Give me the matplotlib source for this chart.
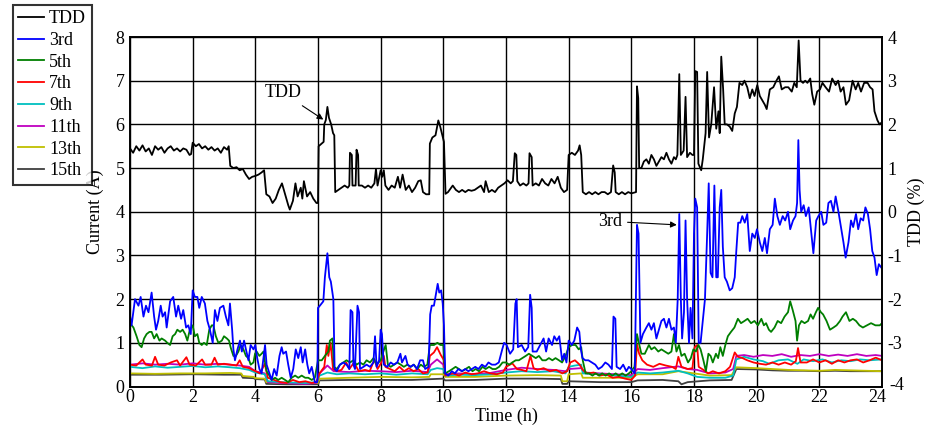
import matplotlib
matplotlib.use("Agg")
import matplotlib.pyplot as plt
from matplotlib.transforms import ScaledTranslation

plt.rcParams['font.family'] = ['Liberation Serif', 'DejaVu Serif']
plt.rcParams['font.size'] = 13
plt.rcParams['axes.unicode_minus'] = False

# ---- Data: (hour, value) samples per series ----
# TDD in percent (right axis)
tdd_points = [
    (0.0, 1.45), (0.1, 1.35), (0.2, 1.50), (0.3, 1.40), (0.4, 1.52), (0.5, 1.38), (0.6, 1.45), (0.7, 1.30),
    (0.8, 1.50), (0.9, 1.42), (1.0, 1.48), (1.1, 1.35), (1.2, 1.45), (1.3, 1.50), (1.4, 1.40), (1.5, 1.45),
    (1.6, 1.38), (1.7, 1.45), (1.8, 1.42), (1.9, 1.30), (1.95, 1.32), (2.0, 1.58), (2.1, 1.50), (2.2, 1.55),
    (2.3, 1.45), (2.4, 1.50), (2.5, 1.42), (2.6, 1.48), (2.7, 1.40), (2.8, 1.45), (2.9, 1.35), (3.0, 1.48),
    (3.1, 1.42), (3.15, 1.50), (3.2, 1.05), (3.3, 1.00), (3.4, 1.02), (3.5, 0.95), (3.6, 0.98), (3.7, 0.85),
    (3.8, 0.75), (3.9, 0.80), (4.0, 0.82), (4.1, 0.85), (4.2, 0.90), (4.28, 0.95), (4.35, 0.40), (4.45, 0.35),
    (4.55, 0.20), (4.65, 0.30), (4.75, 0.50), (4.85, 0.65), (4.95, 0.40), (5.05, 0.15), (5.1, 0.05), (5.2, 0.25),
    (5.28, 0.65), (5.35, 0.35), (5.45, 0.55), (5.5, 0.30), (5.55, 0.70), (5.65, 0.35), (5.75, 0.45), (5.85, 0.30),
    (5.95, 0.20), (6.0, 0.20), (6.02, 1.50), (6.1, 1.55), (6.18, 1.60), (6.2, 2.00), (6.25, 2.10), (6.3, 2.40),
    (6.35, 2.15), (6.42, 2.00), (6.48, 1.80), (6.52, 1.75), (6.55, 0.45), (6.65, 0.50), (6.75, 0.55), (6.85, 0.60),
    (6.95, 0.55), (7.0, 0.60), (7.02, 1.35), (7.08, 1.30), (7.1, 0.60), (7.2, 0.60), (7.23, 1.42), (7.28, 1.30),
    (7.3, 0.60), (7.4, 0.60), (7.5, 0.55), (7.6, 0.60), (7.7, 0.55), (7.8, 0.65), (7.85, 0.98), (7.9, 0.60),
    (8.0, 0.95), (8.05, 0.80), (8.1, 0.95), (8.15, 0.60), (8.25, 0.50), (8.35, 0.60), (8.45, 0.55), (8.55, 0.80),
    (8.62, 0.55), (8.7, 0.85), (8.8, 0.50), (8.9, 0.60), (9.0, 0.45), (9.1, 0.55), (9.2, 0.70), (9.28, 0.72),
    (9.35, 0.45), (9.45, 0.40), (9.55, 0.40), (9.57, 1.56), (9.65, 1.70), (9.75, 1.75), (9.84, 2.09), (9.9, 1.95),
    (9.95, 1.80), (10.02, 1.60), (10.07, 0.41), (10.15, 0.45), (10.3, 0.60), (10.4, 0.50), (10.5, 0.45), (10.6, 0.50),
    (10.7, 0.45), (10.8, 0.50), (10.9, 0.48), (11.0, 0.50), (11.1, 0.55), (11.2, 0.60), (11.3, 0.45), (11.35, 0.70),
    (11.45, 0.45), (11.55, 0.50), (11.65, 0.45), (11.75, 0.55), (11.85, 0.60), (11.95, 0.65), (12.05, 0.72), (12.15, 0.65),
    (12.22, 0.70), (12.28, 1.34), (12.33, 1.30), (12.36, 0.70), (12.45, 0.60), (12.55, 0.65), (12.65, 0.60), (12.72, 0.65),
    (12.75, 1.34), (12.82, 1.25), (12.85, 0.60), (12.95, 0.65), (13.05, 0.60), (13.15, 0.75), (13.25, 0.65), (13.35, 0.60),
    (13.45, 0.75), (13.55, 0.65), (13.65, 0.80), (13.75, 0.55), (13.85, 0.45), (13.95, 0.50), (14.0, 1.30), (14.1, 1.35),
    (14.2, 1.30), (14.3, 1.40), (14.35, 1.52), (14.4, 1.30), (14.45, 0.45), (14.55, 0.40), (14.65, 0.45), (14.75, 0.40),
    (14.85, 0.45), (14.95, 0.40), (15.05, 0.45), (15.15, 0.45), (15.25, 0.40), (15.35, 0.45), (15.42, 1.06), (15.47, 0.90),
    (15.5, 0.45), (15.6, 0.40), (15.7, 0.45), (15.8, 0.40), (15.9, 0.45), (16.0, 0.42), (16.15, 0.45), (16.18, 2.87),
    (16.22, 2.60), (16.25, 1.00), (16.32, 1.00), (16.4, 1.15), (16.48, 1.20), (16.56, 1.10), (16.64, 1.30), (16.72, 1.20),
    (16.8, 1.05), (16.88, 1.15), (16.96, 1.25), (17.04, 1.20), (17.12, 1.35), (17.2, 1.20), (17.28, 1.10), (17.36, 1.25),
    (17.42, 1.20), (17.47, 1.30), (17.53, 3.15), (17.58, 1.30), (17.67, 1.40), (17.73, 2.63), (17.78, 1.25), (17.87, 1.35),
    (17.95, 1.30), (18.0, 1.30), (18.04, 3.22), (18.1, 3.20), (18.14, 1.10), (18.23, 0.95), (18.28, 1.20), (18.37, 1.80),
    (18.42, 3.20), (18.48, 1.70), (18.55, 2.00), (18.64, 2.85), (18.71, 1.90), (18.78, 2.30), (18.82, 1.80), (18.87, 3.55),
    (18.93, 2.80), (18.98, 2.00), (19.05, 2.00), (19.14, 1.95), (19.22, 1.85), (19.3, 2.25), (19.37, 2.40), (19.45, 2.95),
    (19.54, 2.90), (19.61, 3.00), (19.7, 2.85), (19.78, 2.60), (19.86, 2.80), (19.93, 2.65), (20.02, 2.90), (20.1, 2.65),
    (20.18, 2.55), (20.26, 2.45), (20.32, 2.35), (20.42, 2.80), (20.53, 2.85), (20.63, 3.00), (20.71, 3.10), (20.8, 2.80),
    (20.91, 2.85), (21.01, 2.85), (21.12, 2.75), (21.2, 2.95), (21.28, 2.85), (21.34, 3.92), (21.4, 3.00), (21.48, 2.95),
    (21.55, 3.00), (21.62, 2.95), (21.71, 3.05), (21.77, 2.70), (21.84, 2.45), (21.93, 2.75), (22.02, 2.80), (22.1, 2.95),
    (22.2, 2.85), (22.31, 2.75), (22.41, 3.05), (22.52, 2.90), (22.6, 3.00), (22.68, 2.75), (22.77, 2.85), (22.85, 2.45),
    (22.95, 2.55), (23.06, 3.00), (23.16, 2.80), (23.24, 2.95), (23.33, 2.75), (23.43, 2.95), (23.54, 2.95), (23.62, 2.85),
    (23.7, 2.80), (23.76, 2.30), (23.85, 2.10), (23.92, 2.00), (24.0, 2.05),
]

# Harmonic currents in A (left axis)
h3_points = [
    (0.0, 1.62), (0.05, 1.40), (0.16, 2.00), (0.27, 1.85), (0.34, 2.05), (0.43, 1.60), (0.51, 1.85), (0.59, 1.70),
    (0.69, 2.15), (0.77, 1.60), (0.83, 1.30), (0.9, 1.50), (0.98, 1.85), (1.04, 1.60), (1.12, 1.70), (1.17, 1.35),
    (1.28, 1.95), (1.38, 2.05), (1.47, 1.60), (1.54, 1.85), (1.63, 1.55), (1.7, 1.75), (1.79, 1.35), (1.86, 1.40),
    (1.94, 1.20), (2.0, 2.20), (2.07, 2.05), (2.15, 2.05), (2.21, 1.80), (2.29, 2.05), (2.39, 1.90), (2.47, 1.50),
    (2.55, 1.30), (2.64, 1.00), (2.71, 1.75), (2.79, 1.50), (2.87, 1.80), (2.98, 1.85), (3.06, 1.60), (3.14, 1.40),
    (3.19, 1.90), (3.26, 1.30), (3.3, 0.85), (3.35, 0.60), (3.43, 0.85), (3.51, 1.05), (3.57, 0.80), (3.64, 1.05),
    (3.7, 0.85), (3.78, 0.60), (3.85, 0.95), (3.94, 0.85), (4.0, 0.95), (4.06, 0.65), (4.13, 0.40), (4.2, 0.30),
    (4.31, 0.95), (4.36, 0.50), (4.45, 0.30), (4.52, 0.15), (4.6, 0.40), (4.68, 0.25), (4.77, 0.70), (4.84, 0.90),
    (4.89, 0.75), (4.98, 0.80), (5.05, 0.50), (5.13, 0.20), (5.21, 0.40), (5.29, 0.85), (5.37, 0.65), (5.45, 0.90),
    (5.51, 0.55), (5.59, 0.85), (5.66, 0.50), (5.72, 0.30), (5.8, 0.45), (5.9, 0.10), (5.98, 0.10), (6.0, 1.80),
    (6.06, 1.85), (6.17, 1.95), (6.22, 2.50), (6.3, 3.05), (6.36, 2.50), (6.41, 2.40), (6.49, 2.00), (6.53, 0.40),
    (6.6, 0.35), (6.7, 0.50), (6.81, 0.55), (6.91, 0.50), (7.0, 0.40), (7.04, 1.75), (7.1, 1.70), (7.13, 0.50),
    (7.18, 0.40), (7.26, 1.85), (7.31, 1.70), (7.34, 0.40), (7.45, 0.45), (7.55, 0.50), (7.66, 0.45), (7.77, 0.55),
    (7.82, 1.15), (7.87, 0.45), (7.95, 0.60), (8.0, 1.30), (8.04, 1.20), (8.1, 0.50), (8.21, 0.45), (8.32, 0.55),
    (8.42, 0.50), (8.53, 0.55), (8.63, 0.75), (8.68, 0.55), (8.79, 0.70), (8.86, 0.50), (8.95, 0.45), (9.05, 0.50),
    (9.16, 0.40), (9.26, 0.60), (9.35, 0.60), (9.42, 0.40), (9.53, 0.45), (9.58, 1.65), (9.63, 1.85), (9.7, 1.85),
    (9.77, 2.15), (9.82, 2.35), (9.87, 2.15), (9.93, 2.20), (9.98, 1.90), (10.02, 1.40), (10.06, 0.30), (10.16, 0.25),
    (10.27, 0.35), (10.37, 0.30), (10.48, 0.40), (10.59, 0.35), (10.7, 0.40), (10.8, 0.35), (10.91, 0.40), (11.02, 0.45),
    (11.12, 0.40), (11.23, 0.50), (11.34, 0.45), (11.44, 0.55), (11.55, 0.50), (11.66, 0.50), (11.77, 0.55), (11.88, 0.85),
    (11.94, 1.00), (12.02, 0.95), (12.13, 0.75), (12.23, 0.85), (12.3, 1.90), (12.34, 2.00), (12.38, 0.90), (12.5, 0.95),
    (12.61, 0.80), (12.71, 0.90), (12.77, 2.10), (12.82, 1.80), (12.85, 0.80), (12.98, 0.80), (13.09, 0.95), (13.2, 1.10),
    (13.28, 0.80), (13.36, 1.10), (13.47, 0.95), (13.54, 1.15), (13.62, 1.05), (13.7, 1.15), (13.79, 0.60), (13.86, 0.75),
    (13.93, 0.55), (14.0, 1.05), (14.1, 0.95), (14.18, 1.05), (14.27, 1.35), (14.34, 1.25), (14.39, 0.85), (14.44, 0.65),
    (14.53, 0.60), (14.63, 0.60), (14.74, 0.55), (14.85, 0.50), (14.95, 0.40), (15.06, 0.45), (15.17, 0.55), (15.27, 0.50),
    (15.38, 0.40), (15.43, 1.60), (15.49, 1.55), (15.53, 0.45), (15.64, 0.40), (15.74, 0.50), (15.84, 0.35), (15.92, 0.45),
    (16.0, 0.40), (16.11, 0.30), (16.18, 3.70), (16.23, 3.50), (16.29, 1.00), (16.37, 1.20), (16.48, 1.35), (16.56, 1.45),
    (16.64, 1.30), (16.72, 1.45), (16.8, 1.10), (16.88, 1.30), (16.96, 1.50), (17.04, 1.55), (17.12, 1.35), (17.2, 1.55),
    (17.28, 1.30), (17.36, 1.35), (17.42, 1.00), (17.48, 2.00), (17.53, 3.95), (17.58, 2.00), (17.62, 1.10), (17.68, 1.70),
    (17.73, 3.80), (17.78, 2.00), (17.84, 1.00), (17.89, 1.80), (17.95, 1.10), (18.0, 3.50), (18.04, 4.30), (18.1, 4.10),
    (18.15, 1.00), (18.21, 1.00), (18.28, 1.50), (18.35, 2.00), (18.42, 3.50), (18.47, 4.65), (18.53, 2.60), (18.59, 2.50),
    (18.65, 4.60), (18.71, 2.50), (18.76, 2.50), (18.82, 4.10), (18.87, 4.50), (18.92, 3.20), (18.98, 2.50), (19.05, 2.40),
    (19.14, 2.20), (19.22, 2.25), (19.3, 2.50), (19.35, 3.10), (19.41, 3.75), (19.48, 3.75), (19.54, 3.90), (19.62, 3.75),
    (19.7, 3.95), (19.78, 3.10), (19.86, 3.50), (19.94, 3.40), (20.01, 3.60), (20.1, 3.30), (20.18, 3.10), (20.26, 3.40),
    (20.33, 3.05), (20.42, 3.60), (20.51, 3.70), (20.58, 4.30), (20.66, 3.90), (20.74, 3.70), (20.83, 3.90), (20.91, 3.80),
    (21.0, 4.00), (21.07, 3.60), (21.16, 3.80), (21.24, 3.90), (21.29, 4.20), (21.33, 5.64), (21.37, 4.50), (21.42, 4.00),
    (21.5, 4.15), (21.57, 3.90), (21.66, 4.10), (21.73, 3.60), (21.81, 3.05), (21.9, 3.80), (21.97, 3.90), (22.06, 4.00),
    (22.13, 3.70), (22.22, 3.75), (22.29, 4.20), (22.37, 4.25), (22.45, 4.00), (22.52, 4.35), (22.61, 4.00), (22.68, 3.70),
    (22.77, 3.30), (22.84, 2.95), (22.93, 3.30), (23.01, 3.80), (23.08, 3.65), (23.17, 3.95), (23.24, 3.60), (23.32, 3.85),
    (23.4, 3.80), (23.47, 4.10), (23.55, 3.95), (23.62, 3.60), (23.69, 3.10), (23.76, 2.95), (23.83, 2.55), (23.9, 2.80),
    (24.0, 2.70),
]

h5_points = [
    (0.0, 1.45), (0.11, 1.35), (0.21, 1.15), (0.3, 0.95), (0.37, 0.90), (0.45, 1.10), (0.53, 1.20), (0.62, 1.25),
    (0.69, 1.25), (0.77, 1.10), (0.85, 1.20), (0.94, 1.05), (1.01, 1.10), (1.12, 1.05), (1.19, 1.00), (1.28, 0.95),
    (1.36, 1.15), (1.44, 1.20), (1.51, 1.30), (1.6, 1.25), (1.68, 1.30), (1.76, 1.20), (1.83, 1.05), (1.91, 1.30),
    (2.0, 1.40), (2.07, 1.15), (2.15, 1.20), (2.21, 1.00), (2.29, 0.95), (2.36, 1.00), (2.45, 0.95), (2.53, 1.30),
    (2.61, 1.40), (2.66, 1.40), (2.74, 1.15), (2.82, 1.00), (2.93, 1.05), (3.0, 1.15), (3.09, 1.10), (3.16, 1.05),
    (3.21, 0.90), (3.3, 0.70), (3.38, 0.70), (3.46, 0.80), (3.53, 0.95), (3.62, 0.85), (3.7, 0.70), (3.78, 0.65),
    (3.85, 0.50), (3.94, 0.55), (3.99, 0.75), (4.04, 0.80), (4.13, 0.70), (4.2, 0.75), (4.26, 0.80), (4.31, 0.55),
    (4.36, 0.35), (4.45, 0.25), (4.52, 0.15), (4.63, 0.20), (4.73, 0.15), (4.84, 0.20), (4.95, 0.15), (5.05, 0.10),
    (5.16, 0.20), (5.27, 0.25), (5.37, 0.20), (5.48, 0.25), (5.59, 0.20), (5.69, 0.20), (5.8, 0.15), (5.9, 0.20),
    (6.0, 0.60), (6.12, 0.60), (6.22, 0.70), (6.33, 0.80), (6.38, 1.05), (6.46, 1.10), (6.51, 0.45), (6.6, 0.40),
    (6.7, 0.50), (6.81, 0.55), (6.91, 0.60), (7.02, 0.55), (7.13, 0.60), (7.23, 0.50), (7.34, 0.55), (7.45, 0.50),
    (7.55, 0.60), (7.66, 0.55), (7.77, 0.65), (7.87, 0.50), (8.0, 0.60), (8.11, 0.85), (8.16, 0.95), (8.23, 0.50),
    (8.32, 0.45), (8.43, 0.50), (8.53, 0.55), (8.64, 0.50), (8.74, 0.45), (8.85, 0.50), (8.96, 0.45), (9.06, 0.50),
    (9.17, 0.40), (9.28, 0.50), (9.38, 0.45), (9.49, 0.50), (9.57, 0.95), (9.7, 0.95), (9.81, 1.00), (9.91, 0.95),
    (10.0, 0.95), (10.06, 0.30), (10.18, 0.35), (10.29, 0.40), (10.39, 0.45), (10.5, 0.40), (10.6, 0.35), (10.71, 0.40),
    (10.82, 0.45), (10.93, 0.35), (11.03, 0.40), (11.14, 0.35), (11.25, 0.45), (11.35, 0.40), (11.46, 0.45), (11.57, 0.40),
    (11.67, 0.40), (11.78, 0.45), (11.89, 0.55), (12.0, 0.55), (12.1, 0.50), (12.2, 0.55), (12.31, 0.60), (12.41, 0.60),
    (12.52, 0.65), (12.63, 0.70), (12.73, 0.75), (12.84, 0.70), (12.95, 0.65), (13.05, 0.70), (13.16, 0.60), (13.27, 0.60),
    (13.37, 0.65), (13.48, 0.60), (13.58, 0.65), (13.69, 0.60), (13.79, 0.55), (13.9, 0.70), (14.0, 0.90), (14.11, 0.95),
    (14.22, 0.95), (14.32, 0.85), (14.4, 0.90), (14.45, 0.60), (14.54, 0.30), (14.65, 0.30), (14.76, 0.25), (14.86, 0.30),
    (14.97, 0.25), (15.07, 0.30), (15.18, 0.25), (15.29, 0.30), (15.39, 0.25), (15.5, 0.30), (15.6, 0.25), (15.71, 0.30),
    (15.82, 0.25), (15.92, 0.30), (16.0, 0.35), (16.1, 0.45), (16.18, 1.20), (16.24, 1.00), (16.32, 0.75), (16.43, 0.75),
    (16.56, 0.95), (16.64, 0.85), (16.74, 0.90), (16.86, 0.80), (16.96, 0.85), (17.07, 0.80), (17.18, 0.75), (17.28, 0.80),
    (17.36, 1.20), (17.44, 0.80), (17.52, 0.95), (17.6, 0.70), (17.7, 0.75), (17.81, 0.55), (17.9, 0.65), (17.98, 0.85),
    (18.06, 0.80), (18.14, 0.95), (18.21, 0.85), (18.3, 0.60), (18.38, 0.35), (18.46, 0.75), (18.53, 0.70), (18.6, 0.55),
    (18.7, 0.75), (18.77, 0.65), (18.84, 0.90), (18.92, 0.70), (19.0, 0.95), (19.08, 1.15), (19.18, 1.25), (19.29, 1.35),
    (19.4, 1.55), (19.5, 1.45), (19.61, 1.50), (19.71, 1.55), (19.82, 1.45), (19.93, 1.50), (20.04, 1.40), (20.15, 1.55),
    (20.23, 1.40), (20.3, 1.45), (20.39, 1.30), (20.46, 1.25), (20.57, 1.35), (20.67, 1.50), (20.78, 1.45), (20.89, 1.60),
    (21.0, 1.70), (21.07, 1.95), (21.15, 1.75), (21.24, 1.50), (21.29, 1.05), (21.35, 1.40), (21.43, 1.50), (21.53, 1.45),
    (21.64, 1.50), (21.72, 1.65), (21.8, 1.55), (21.89, 1.70), (21.96, 1.80), (22.05, 1.70), (22.12, 1.65), (22.23, 1.50),
    (22.34, 1.30), (22.45, 1.35), (22.55, 1.40), (22.66, 1.50), (22.74, 1.60), (22.85, 1.70), (22.96, 1.50), (23.07, 1.55),
    (23.17, 1.50), (23.28, 1.40), (23.39, 1.35), (23.52, 1.40), (23.65, 1.45), (23.79, 1.40), (23.93, 1.40), (24.0, 1.45),
]

h7_points = [
    (0.0, 0.50), (0.2, 0.48), (0.4, 0.62), (0.5, 0.50), (0.7, 0.48), (0.8, 0.68), (0.9, 0.50), (1.1, 0.48),
    (1.3, 0.55), (1.5, 0.60), (1.6, 0.48), (1.8, 0.67), (1.9, 0.50), (2.1, 0.48), (2.3, 0.62), (2.4, 0.50),
    (2.6, 0.50), (2.7, 0.66), (2.8, 0.50), (3.0, 0.52), (3.2, 0.50), (3.4, 0.48), (3.5, 0.60), (3.6, 0.45),
    (3.8, 0.42), (4.0, 0.35), (4.15, 0.30), (4.3, 0.52), (4.4, 0.20), (4.6, 0.15), (4.8, 0.10), (5.0, 0.08),
    (5.2, 0.15), (5.4, 0.10), (5.6, 0.12), (5.8, 0.08), (5.95, 0.10), (6.05, 0.30), (6.2, 0.45), (6.28, 0.95),
    (6.33, 0.70), (6.4, 1.00), (6.48, 0.40), (6.6, 0.35), (6.75, 0.38), (6.9, 0.55), (7.0, 0.40), (7.15, 0.55),
    (7.3, 0.35), (7.5, 0.38), (7.65, 0.35), (7.8, 0.62), (7.9, 0.40), (8.0, 0.52), (8.1, 0.70), (8.15, 0.45),
    (8.3, 0.40), (8.45, 0.35), (8.6, 0.45), (8.75, 0.35), (8.9, 0.42), (9.05, 0.35), (9.2, 0.40), (9.35, 0.30),
    (9.5, 0.32), (9.57, 0.70), (9.7, 0.78), (9.8, 0.90), (9.92, 0.72), (10.02, 0.60), (10.06, 0.25), (10.3, 0.30),
    (10.5, 0.25), (10.7, 0.32), (10.9, 0.28), (11.1, 0.30), (11.3, 0.35), (11.5, 0.30), (11.7, 0.28), (11.9, 0.32),
    (12.0, 0.45), (12.2, 0.53), (12.35, 0.40), (12.5, 0.38), (12.65, 0.35), (12.78, 0.70), (12.88, 0.42), (13.0, 0.38),
    (13.2, 0.42), (13.4, 0.35), (13.6, 0.38), (13.8, 0.30), (13.95, 0.35), (14.05, 0.55), (14.2, 0.60), (14.35, 0.50),
    (14.45, 0.38), (14.6, 0.30), (14.8, 0.32), (15.0, 0.25), (15.2, 0.28), (15.4, 0.20), (15.6, 0.22), (15.8, 0.18),
    (16.0, 0.15), (16.12, 0.25), (16.18, 0.97), (16.25, 0.75), (16.35, 0.60), (16.5, 0.50), (16.7, 0.45), (16.9, 0.52),
    (17.1, 0.48), (17.3, 0.45), (17.42, 0.40), (17.5, 0.68), (17.6, 0.45), (17.8, 0.40), (17.95, 0.42), (18.02, 0.90),
    (18.1, 0.95), (18.15, 0.45), (18.3, 0.38), (18.45, 0.30), (18.6, 0.35), (18.8, 0.30), (19.0, 0.35), (19.15, 0.45),
    (19.3, 0.78), (19.4, 0.68), (19.55, 0.65), (19.7, 0.60), (19.9, 0.55), (20.1, 0.52), (20.3, 0.50), (20.5, 0.55),
    (20.7, 0.50), (20.9, 0.55), (21.1, 0.50), (21.25, 0.58), (21.32, 0.88), (21.4, 0.55), (21.6, 0.55), (21.8, 0.62),
    (22.0, 0.55), (22.2, 0.60), (22.4, 0.52), (22.6, 0.60), (22.8, 0.55), (23.0, 0.60), (23.2, 0.62), (23.4, 0.55),
    (23.6, 0.60), (23.8, 0.66), (24.0, 0.60),
]

h9_points = [
    (0.0, 0.45), (0.4, 0.42), (0.8, 0.46), (1.2, 0.43), (1.6, 0.45), (2.0, 0.47), (2.4, 0.44), (2.8, 0.46),
    (3.2, 0.44), (3.5, 0.42), (3.8, 0.38), (4.0, 0.32), (4.3, 0.28), (4.4, 0.12), (4.8, 0.10), (5.2, 0.09),
    (5.6, 0.08), (5.95, 0.10), (6.05, 0.25), (6.3, 0.32), (6.6, 0.28), (7.0, 0.30), (7.5, 0.28), (8.0, 0.30),
    (8.5, 0.27), (9.0, 0.30), (9.5, 0.28), (9.6, 0.38), (9.8, 0.42), (10.0, 0.40), (10.06, 0.25), (10.5, 0.27),
    (11.0, 0.26), (11.5, 0.28), (12.0, 0.32), (12.5, 0.35), (13.0, 0.33), (13.5, 0.35), (13.9, 0.30), (14.0, 0.45),
    (14.2, 0.48), (14.4, 0.50), (14.45, 0.30), (15.0, 0.28), (15.5, 0.25), (16.0, 0.22), (16.2, 0.32), (16.6, 0.30),
    (17.0, 0.32), (17.5, 0.36), (17.8, 0.30), (18.1, 0.22), (18.5, 0.20), (19.0, 0.20), (19.25, 0.25), (19.35, 0.62),
    (19.6, 0.68), (19.9, 0.62), (20.2, 0.58), (20.4, 0.52), (20.7, 0.60), (21.0, 0.62), (21.3, 0.52), (21.5, 0.62),
    (21.8, 0.58), (22.1, 0.62), (22.4, 0.55), (22.7, 0.60), (23.0, 0.58), (23.3, 0.62), (23.6, 0.60), (24.0, 0.62),
]

h11_points = [
    (0.0, 0.50), (0.4, 0.53), (0.8, 0.50), (1.2, 0.52), (1.6, 0.50), (2.0, 0.53), (2.4, 0.50), (2.8, 0.52),
    (3.2, 0.50), (3.5, 0.48), (3.8, 0.45), (4.0, 0.35), (4.3, 0.30), (4.4, 0.10), (4.8, 0.08), (5.2, 0.07),
    (5.6, 0.06), (5.95, 0.08), (6.05, 0.30), (6.3, 0.48), (6.5, 0.35), (7.0, 0.33), (7.5, 0.36), (8.0, 0.35),
    (8.5, 0.33), (9.0, 0.36), (9.5, 0.33), (9.6, 0.50), (9.8, 0.62), (10.0, 0.50), (10.06, 0.28), (10.5, 0.30),
    (11.0, 0.28), (11.5, 0.31), (12.0, 0.38), (12.5, 0.43), (13.0, 0.40), (13.5, 0.38), (13.9, 0.35), (14.0, 0.40),
    (14.4, 0.42), (14.5, 0.32), (15.0, 0.30), (15.5, 0.28), (16.0, 0.26), (16.2, 0.40), (16.6, 0.38), (17.0, 0.42),
    (17.5, 0.46), (17.8, 0.40), (18.1, 0.38), (18.5, 0.30), (19.0, 0.32), (19.25, 0.40), (19.35, 0.70), (19.6, 0.72),
    (19.9, 0.68), (20.2, 0.72), (20.5, 0.70), (20.8, 0.74), (21.1, 0.68), (21.4, 0.72), (21.7, 0.70), (22.0, 0.74),
    (22.3, 0.70), (22.6, 0.73), (22.9, 0.70), (23.2, 0.74), (23.5, 0.70), (23.8, 0.72), (24.0, 0.70),
]

h13_points = [
    (0.0, 0.30), (0.8, 0.29), (1.6, 0.30), (2.4, 0.30), (3.2, 0.31), (3.55, 0.30), (3.6, 0.24), (3.95, 0.22),
    (4.0, 0.19), (4.3, 0.18), (4.35, 0.10), (5.0, 0.08), (6.0, 0.08), (6.05, 0.18), (7.0, 0.20), (8.0, 0.22),
    (9.0, 0.21), (9.55, 0.22), (9.6, 0.28), (10.0, 0.28), (10.06, 0.22), (11.0, 0.22), (12.0, 0.25), (13.0, 0.26),
    (13.75, 0.25), (13.8, 0.12), (13.95, 0.12), (14.0, 0.28), (14.4, 0.30), (14.45, 0.20), (15.2, 0.20), (16.0, 0.20),
    (16.2, 0.28), (17.0, 0.28), (17.5, 0.35), (18.0, 0.30), (18.5, 0.25), (19.2, 0.26), (19.35, 0.44), (20.0, 0.42),
    (20.5, 0.40), (21.0, 0.38), (21.5, 0.37), (22.0, 0.36), (22.5, 0.38), (23.0, 0.37), (23.5, 0.36), (24.0, 0.35),
]

h15_points = [
    (0.0, 0.27), (1.0, 0.27), (2.0, 0.28), (3.0, 0.27), (3.55, 0.27), (3.6, 0.20), (3.95, 0.19), (4.0, 0.17),
    (4.3, 0.16), (4.35, 0.06), (5.0, 0.05), (6.0, 0.05), (6.05, 0.14), (7.0, 0.15), (8.0, 0.15), (9.0, 0.15),
    (10.0, 0.18), (10.06, 0.14), (11.0, 0.15), (12.0, 0.18), (13.0, 0.18), (13.75, 0.17), (13.8, 0.06), (13.95, 0.06),
    (14.0, 0.12), (15.0, 0.10), (16.0, 0.10), (16.2, 0.14), (17.0, 0.15), (17.5, 0.12), (17.6, 0.05), (17.8, 0.10),
    (18.5, 0.14), (19.2, 0.15), (19.35, 0.40), (20.0, 0.39), (20.5, 0.37), (21.0, 0.36), (21.5, 0.36), (22.0, 0.35),
    (22.5, 0.36), (23.0, 0.35), (23.5, 0.35), (24.0, 0.35),
]

harmonics = [
    ('3rd', h3_points, '#0000ff'),
    ('5th', h5_points, '#007f00'),
    ('7th', h7_points, '#ff0000'),
    ('9th', h9_points, '#00bfbf'),
    ('11th', h11_points, '#bf00bf'),
    ('13th', h13_points, '#bfbf00'),
    ('15th', h15_points, '#3f3f3f'),
]

hour_ticks = list(range(0, 25, 2))
current_ticks = list(range(0, 9))
tdd_ticks = list(range(-4, 5))

# ---- Figure ----
fig = plt.figure(figsize=(9.3, 4.26), dpi=100)
ax = fig.add_axes([130 / 930, 1 - 386.5 / 426, (882 - 130) / 930, (386.5 - 37) / 426])
ax2 = ax.twinx()

handles = []
# 15th drawn first (at the back), 3rd last among the harmonics
for name, pts, color in reversed(harmonics):
    t, v = zip(*pts)
    ln, = ax.plot(t, v, color=color, lw=1.3, label=name)
    handles.insert(0, ln)

t, v = zip(*tdd_points)
tdd_line, = ax2.plot(t, v, color='black', lw=1.3, label='TDD')
handles.insert(0, tdd_line)

ax.set_xlim(0, 24)
ax.set_ylim(0, 8)
ax2.set_ylim(-4, 4)
ax.set_xticks(hour_ticks)
ax.set_yticks(current_ticks)
ax2.set_yticks(tdd_ticks)

ax.grid(True, color='black', lw=1.0)
ax.set_axisbelow(True)
for a in (ax, ax2):
    a.tick_params(direction='in', length=0, labelsize=13, pad=4)
    for s in a.spines.values():
        s.set_linewidth(1.2)
ax.tick_params(axis='x', pad=2)

ax.set_xlabel('Time (h)', fontsize=13, labelpad=1)
ax.set_ylabel('Current (A)', fontsize=13, labelpad=8)
ax2.set_ylabel('TDD (%)', fontsize=13, labelpad=2)

# keep the last hour label clear of the bottom right-axis label
fig.canvas.draw()
last_xlabel = ax.get_xticklabels()[-1]
last_xlabel.set_transform(last_xlabel.get_transform() + ScaledTranslation(-5 / 100, 0, fig.dpi_scale_trans))
first_rlabel = ax2.get_yticklabels()[0]
first_rlabel.set_transform(first_rlabel.get_transform() + ScaledTranslation(2 / 100, 3 / 100, fig.dpi_scale_trans))

ax2.annotate('TDD', xy=(6.17, 2.11), xytext=(4.88, 2.72), ha='center', va='center', fontsize=13,
             arrowprops=dict(arrowstyle='-|>', color='black', lw=0.8, mutation_scale=9, shrinkA=2, shrinkB=0))
ax.annotate('3rd', xy=(17.45, 3.70), xytext=(15.32, 3.78), ha='center', va='center', fontsize=13,
            arrowprops=dict(arrowstyle='-|>', color='black', lw=0.8, mutation_scale=9, shrinkA=2, shrinkB=0))

leg = fig.legend(handles=handles, loc='upper left', bbox_to_anchor=(13 / 930, 1 - 5 / 426),
                 bbox_transform=fig.transFigure, fontsize=13, frameon=True, fancybox=False,
                 borderpad=0.3, labelspacing=0.26, handlelength=1.4, handletextpad=0.3,
                 borderaxespad=0.0)
leg.get_frame().set_edgecolor('black')
leg.get_frame().set_linewidth(1.5)

fig.savefig('out.png', dpi=100)
